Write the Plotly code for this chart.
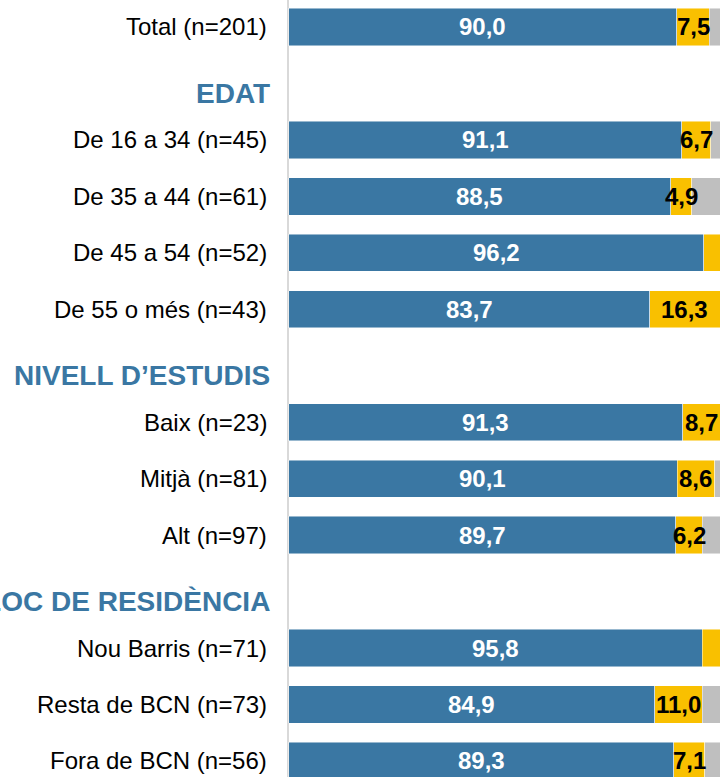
import plotly.graph_objects as go

rows = ["Total (n=201)", "EDAT", "De 16 a 34 (n=45)", "De 35 a 44 (n=61)",
        "De 45 a 54 (n=52)", "De 55 o més (n=43)", "NIVELL D’ESTUDIS",
        "Baix (n=23)", "Mitjà (n=81)", "Alt (n=97)", "LLOC DE RESIDÈNCIA",
        "Nou Barris (n=71)", "Resta de BCN (n=73)", "Fora de BCN (n=56)"]
is_header = [False, True, False, False, False, False, True,
             False, False, False, True, False, False, False]
blue = [90.0, None, 91.1, 88.5, 96.2, 83.7, None, 91.3, 90.1, 89.7, None, 95.8, 84.9, 89.3]
yellow = [7.5, None, 6.7, 4.9, 3.8, 16.3, None, 8.7, 8.6, 6.2, None, 4.2, 11.0, 7.1]
gray = [2.5, None, 2.2, 6.6, 0.0, 0.0, None, 0.0, 1.3, 4.1, None, 0.0, 4.1, 3.6]

BLUE = "#3a77a3"
YELLOW = "#f9c000"
GRAY = "#bfbfbf"
FONT = "Liberation Sans, Arial, sans-serif"

ypos = list(range(len(rows)))
fig = go.Figure()
for vals, col in [(blue, BLUE), (yellow, YELLOW), (gray, GRAY)]:
    fig.add_trace(go.Bar(
        y=ypos, x=vals, orientation="h", width=0.66,
        marker=dict(color=col, line=dict(color="rgba(255,255,255,0.6)", width=0.8)),
        hoverinfo="skip", showlegend=False))

def fmt(v):
    return f"{v:.1f}".replace(".", ",")

ann = []
for i, lab in enumerate(rows):
    if is_header[i]:
        ann.append(dict(x=0, xref="paper", y=i, yref="y", text=f"<b>{lab}</b>",
                        xanchor="right", yanchor="middle", xshift=-15, yshift=-10,
                        showarrow=False, font=dict(family=FONT, size=28, color=BLUE)))
        continue
    ann.append(dict(x=0, xref="paper", y=i, yref="y", text=lab,
                    xanchor="right", yanchor="middle", xshift=-18,
                    showarrow=False, font=dict(family=FONT, size=24, color="#000000")))
    b, yv = blue[i], yellow[i]
    ann.append(dict(x=b / 2, y=i, text=f"<b>{fmt(b)}</b>", showarrow=False,
                    xanchor="center", yanchor="middle",
                    font=dict(family=FONT, size=24, color="#ffffff")))
    if yv >= 4.5:
        ann.append(dict(x=b + yv / 2, y=i, text=f"<b>{fmt(yv)}</b>", showarrow=False,
                        xanchor="center", yanchor="middle",
                        font=dict(family=FONT, size=24, color="#000000")))

fig.update_layout(
    barmode="stack",
    width=721, height=777,
    margin=dict(l=287, r=0, t=0, b=0),
    paper_bgcolor="white", plot_bgcolor="white",
    xaxis=dict(range=[-0.35, 100.2], showgrid=False, zeroline=False,
               showticklabels=False, fixedrange=True),
    yaxis=dict(range=[13.284, -0.478], showgrid=False, zeroline=False,
               showticklabels=False, fixedrange=True),
    annotations=ann,
    shapes=[dict(type="line", xref="x", yref="paper", x0=-0.12, x1=-0.12, y0=0, y1=1,
                 line=dict(color="#d9d9d9", width=2), layer="below")],
)
fig.write_html("out.html", config={"displayModeBar": False},
               post_script="document.body.style.margin='0';document.body.style.overflow='hidden';")
